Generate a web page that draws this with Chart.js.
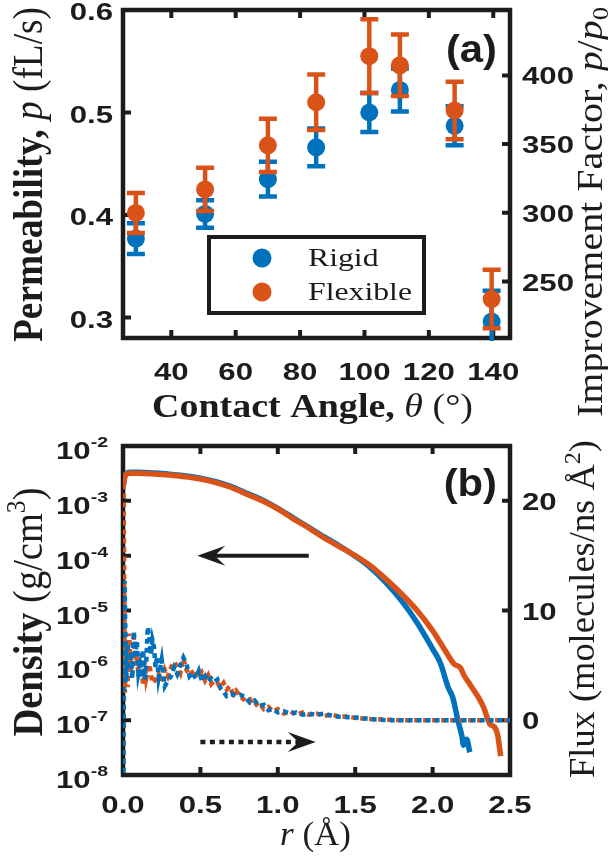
<!DOCTYPE html>
<html>
<head>
<meta charset="utf-8">
<script src="https://cdn.jsdelivr.net/npm/chart.js@4.4.1/dist/chart.umd.min.js"></script>
<style>
  body { margin: 0; background: #fff; }
  canvas { display: block; }
</style>
</head>
<body>
<canvas id="permChart" width="608" height="432"></canvas>
<canvas id="densityChart" width="608" height="433"></canvas>
<script>
// ---- panel (a): permeability vs contact angle ----
const contactAngles = [29, 50.5, 70, 85, 101.5, 111, 128, 139.5];
const rigidPerm = [0.377, 0.401, 0.435, 0.466, 0.500, 0.522, 0.487, 0.296];
const rigidErr = [0.015, 0.0135, 0.017, 0.0185, 0.019, 0.021, 0.019, 0.030];
const flexPerm = [0.402, 0.425, 0.468, 0.510, 0.555, 0.546, 0.502, 0.318];
const flexErr = [0.0195, 0.021, 0.026, 0.027, 0.036, 0.030, 0.028, 0.0285];

const angleTicks = [40, 60, 80, 100, 120, 140];
const angleTickLabels = ['40', '60', '80', '100', '120', '140'];
const permTicks = [0.3, 0.4, 0.5, 0.6];
const permTickLabels = ['0.3', '0.4', '0.5', '0.6'];
const factorTicks = [250, 300, 350, 400];
const factorTickLabels = ['250', '300', '350', '400'];
const factorPerPerm = 746; // p / p0 for p in fL/s

// ---- panel (b): density and flux vs r ----
const rRigidDens = [0.003, 0.012, 0.025, 0.05, 0.1, 0.2, 0.3, 0.4, 0.5, 0.6, 0.7, 0.8, 0.9, 1.0, 1.1, 1.2, 1.3, 1.4,
  1.5, 1.6, 1.7, 1.8, 1.9, 2.0, 2.05, 2.1, 2.13, 2.16, 2.19, 2.2, 2.22, 2.24];
const rigidDensity = [2.0e-3, 2.85e-3, 3.22e-3, 3.33e-3, 3.33e-3, 3.22e-3, 3.07e-3, 2.86e-3, 2.6e-3, 2.24e-3,
  1.82e-3, 1.37e-3, 1.04e-3, 7.3e-4, 4.9e-4, 3.3e-4, 2.2e-4, 1.5e-4, 9.8e-5, 6.0e-5, 3.2e-5, 1.5e-5, 6.0e-6,
  2.0e-6, 1.1e-6, 4.0e-7, 2.6e-7, 1.1e-7, 5.0e-8, 3.5e-8, 4.5e-8, 2.6e-8];

const rFlexDens = [0.003, 0.012, 0.025, 0.05, 0.1, 0.2, 0.3, 0.4, 0.5, 0.6, 0.7, 0.8, 0.9, 1.0, 1.1, 1.2, 1.3, 1.4,
  1.5, 1.6, 1.7, 1.8, 1.9, 2.0, 2.07, 2.14, 2.18, 2.2, 2.23, 2.27, 2.3, 2.33, 2.37, 2.4, 2.42, 2.44];
const flexDensity = [1.9e-3, 2.75e-3, 3.1e-3, 3.2e-3, 3.2e-3, 3.1e-3, 2.95e-3, 2.75e-3, 2.5e-3, 2.15e-3,
  1.75e-3, 1.32e-3, 1.0e-3, 7.1e-4, 4.7e-4, 3.2e-4, 2.1e-4, 1.45e-4, 1.0e-4, 6.5e-5, 3.7e-5, 2.0e-5, 1.0e-5,
  4.3e-6, 2.1e-6, 1.05e-6, 9.0e-7, 6.8e-7, 5.0e-7, 3.4e-7, 2.5e-7, 1.7e-7, 8.5e-8, 7.5e-8, 5.4e-8, 2.2e-8];

const rRigidFlux = [0.003, 0.01, 0.02, 0.03, 0.04, 0.05, 0.06, 0.07, 0.08, 0.09,
  0.10, 0.11, 0.12, 0.13, 0.14, 0.15, 0.16, 0.17, 0.18, 0.19,
  0.20, 0.21, 0.22, 0.23, 0.25, 0.27, 0.29, 0.31, 0.33, 0.35,
  0.37, 0.39, 0.41, 0.43, 0.45, 0.47, 0.49, 0.51, 0.53, 0.55,
  0.57, 0.59, 0.61, 0.63, 0.65, 0.67, 0.70, 0.73, 0.76, 0.79,
  0.82, 0.85, 0.88, 0.91, 0.94, 0.97, 1.00, 1.04, 1.08, 1.12,
  1.16, 1.2, 1.25, 1.3, 1.35, 1.4, 1.5, 1.6, 1.7, 2.0, 2.3, 2.5];
const rigidFlux = [-4.8, 12.7, 3.5, 7.0, 4.6, 6.2, 3.8, 8.1, 6.0, 7.2,
  4.3, 5.0, 3.9, 6.4, 3.7, 5.2, 8.5, 7.6, 6.0, 7.3,
  6.7, 4.8, 5.8, 3.9, 5.5, 3.1, 3.6, 4.0, 4.8, 4.2,
  5.0, 5.7, 5.1, 4.0, 4.3, 3.8, 4.5, 3.6, 4.0, 3.5,
  3.8, 3.5, 3.7, 2.9, 2.6, 2.2, 2.4, 2.2, 2.3, 2.1,
  1.6, 1.8, 1.3, 1.4, 0.9, 1.0, 0.7, 0.8, 0.6, 0.7,
  0.5, 0.6, 0.5, 0.6, 0.4, 0.3, 0.25, 0.1, 0.0, 0, 0, 0];

const rFlexFlux = [0.004, 0.012, 0.02, 0.03, 0.04, 0.05, 0.06, 0.07, 0.08, 0.09,
  0.10, 0.11, 0.12, 0.13, 0.14, 0.15,
  0.17, 0.19, 0.21, 0.23, 0.25, 0.27, 0.29, 0.31, 0.33, 0.35,
  0.37, 0.39, 0.41, 0.43, 0.45, 0.47, 0.49, 0.51, 0.53, 0.55,
  0.57, 0.59, 0.61, 0.63, 0.65, 0.67, 0.69, 0.71, 0.73,
  0.76, 0.79, 0.82, 0.85, 0.88, 0.91, 0.94, 0.97,
  1.00, 1.04, 1.08, 1.12, 1.16, 1.2, 1.25, 1.3, 1.35, 1.4, 1.45, 1.5,
  1.6, 1.7, 1.8, 2.0, 2.2, 2.5];
const flexFlux = [21.5, 2.5, 6.5, 3.0, 7.9, 4.5, 6.3, 7.6, 5.0, 6.0,
  4.0, 5.5, 4.9, 3.2, 5.3, 3.8,
  5.1, 3.4, 3.7, 4.2, 3.5, 4.6, 4.0, 4.8, 5.3, 4.9,
  4.3, 5.6, 4.6, 4.1, 4.4, 4.6, 3.8, 4.3, 3.6, 4.1,
  3.3, 3.6, 3.4, 3.0, 3.4, 2.8, 3.1, 2.4, 2.7,
  2.1, 1.8, 1.9, 1.3, 1.6, 1.0, 1.2, 0.8,
  1.0, 0.6, 0.8, 0.5, 0.7, 0.5, 0.6, 0.4, 0.5, 0.3, 0.35, 0.2,
  0.1, 0.05, 0, 0, 0, 0];

const radiusTicks = [0, 0.5, 1, 1.5, 2, 2.5];
const radiusTickLabels = ['0.0', '0.5', '1.0', '1.5', '2.0', '2.5'];
const densityTicks = [1e-8, 1e-7, 1e-6, 1e-5, 1e-4, 1e-3, 1e-2];
const densityTickExps = ['-8', '-7', '-6', '-5', '-4', '-3', '-2'];
const fluxTicks = [0, 10, 20];
const fluxTickLabels = ['0', '10', '20'];

// arrows telling which axis each line style belongs to
const densityArrow = { from: 1.2, to: 0.48, at: 1e-4 };
const fluxArrow = { from: 0.5, to: 1.245, at: -2 };

const BLUE = '#0072BD';
const RED = '#D95319';
const INK = '#1c1c1c';
const SANS = '"Liberation Sans", Arial, sans-serif';
const SERIF = '"Liberation Serif", "Times New Roman", serif';
const ROT = -Math.PI / 2;

function fontOf(p, base) {
  const f = Object.assign({}, base, p);
  return (f.italic ? 'italic ' : '') + (f.bold ? 'bold ' : '') + f.size + 'px ' + f.family;
}

// draw a row of text parts (mixed weight / italic / super- and subscripts)
function drawRich(ctx, parts, o) {
  const base = { size: o.size || 24, family: o.family || SERIF, bold: !!o.bold, italic: false };
  ctx.save();
  const widths = parts.map(p => { ctx.font = fontOf(p, base); return ctx.measureText(p.text).width; });
  const w = widths.reduce((s, v) => s + v, 0);
  const sx = o.length ? o.length / w : (o.sx || 1);
  ctx.translate(o.x, o.y);
  if (o.rot) ctx.rotate(o.rot);
  ctx.scale(sx, o.sy || 1);
  let cx = o.align === 'right' ? -w : o.align === 'left' ? 0 : -w / 2;
  ctx.fillStyle = INK;
  ctx.textAlign = 'left';
  ctx.textBaseline = 'alphabetic';
  parts.forEach((p, i) => {
    ctx.font = fontOf(p, base);
    ctx.fillText(p.text, cx, p.dy || 0);
    cx += widths[i];
  });
  ctx.restore();
}

const tickFont = { family: SANS, bold: true, size: 24, sx: 1.3 };

function fixTicks(values) {
  return scale => { scale.ticks = values.map(v => ({ value: v })); };
}
function fixWidth(w) {
  return scale => { scale.width = w; scale.paddingTop = 0; scale.paddingBottom = 0; };
}
function fixHeight(h) {
  return scale => { scale.height = h; scale.paddingLeft = 0; scale.paddingRight = 0; };
}

// box round the plot with inward tick marks
const framePlugin = {
  id: 'frame',
  beforeDatasetsDraw(chart) {
    const { ctx, chartArea: a, scales } = chart;
    const T = 8;
    ctx.save();
    ctx.strokeStyle = INK;
    ctx.lineWidth = 4;
    ctx.beginPath();
    scales.x.ticks.forEach(t => {
      const px = scales.x.getPixelForValue(t.value);
      if (px < a.left + 3 || px > a.right - 3) return;
      ctx.moveTo(px, a.bottom); ctx.lineTo(px, a.bottom - T);
      ctx.moveTo(px, a.top); ctx.lineTo(px, a.top + T);
    });
    scales.y.ticks.forEach(t => {
      const py = scales.y.getPixelForValue(t.value);
      if (py < a.top + 3 || py > a.bottom - 3) return;
      ctx.moveTo(a.left, py); ctx.lineTo(a.left + T, py);
    });
    scales.y2.ticks.forEach(t => {
      const py = scales.y2.getPixelForValue(t.value);
      if (py < a.top + 3 || py > a.bottom - 3) return;
      ctx.moveTo(a.right, py); ctx.lineTo(a.right - T, py);
    });
    ctx.stroke();
    ctx.lineWidth = 4.5;
    ctx.strokeRect(a.left, a.top, a.right - a.left, a.bottom - a.top);
    ctx.restore();
  }
};

// vertical error bars, drawn just under their own markers
const errorBarPlugin = {
  id: 'errorBars',
  beforeDatasetDraw(chart, args) {
    const ds = chart.data.datasets[args.index];
    if (!ds.errors) return;
    const { ctx, chartArea: a, scales: { x, y } } = chart;
    ctx.save();
    ctx.beginPath();
    ctx.rect(a.left - 3, a.top - 3, a.right - a.left + 6, a.bottom - a.top + 6);
    ctx.clip();
    ctx.strokeStyle = ds.backgroundColor;
    ctx.lineWidth = 4.5;
    ds.data.forEach((pt, i) => {
      const px = x.getPixelForValue(pt.x);
      const hi = y.getPixelForValue(pt.y + ds.errors[i]);
      const lo = y.getPixelForValue(pt.y - ds.errors[i]);
      ctx.beginPath();
      ctx.moveTo(px, hi); ctx.lineTo(px, lo);
      ctx.moveTo(px - 9, hi); ctx.lineTo(px + 9, hi);
      ctx.moveTo(px - 9, lo); ctx.lineTo(px + 9, lo);
      ctx.stroke();
    });
    ctx.restore();
  }
};

// tick labels, axis titles and the panel letter
function axisTextPlugin(cfg) {
  return {
    id: 'axisText',
    afterDraw(chart) {
      const { ctx, scales } = chart;
      scales.x.ticks.forEach((t, i) => {
        drawRich(ctx, [{ text: cfg.xLabels[i] }],
          Object.assign({}, tickFont, { x: scales.x.getPixelForValue(t.value), y: cfg.xBaseline }));
      });
      scales.y.ticks.forEach((t, i) => {
        const py = scales.y.getPixelForValue(t.value) + cfg.yShift;
        const parts = cfg.yExps
          ? [{ text: '10' }, { text: cfg.yExps[i], size: 15, dy: -12 }]
          : [{ text: cfg.yLabels[i] }];
        drawRich(ctx, parts, Object.assign({}, tickFont, { x: cfg.yRight, y: py, align: 'right' }));
      });
      scales.y2.ticks.forEach((t, i) => {
        const py = scales.y2.getPixelForValue(t.value) + 9;
        drawRich(ctx, [{ text: cfg.y2Labels[i] }],
          Object.assign({}, tickFont, { x: 522, y: py, align: 'left' }));
      });
      cfg.titles.forEach(tt => drawRich(ctx, tt.parts, tt));
      drawRich(ctx, [{ text: cfg.panel.text }],
        { family: SANS, bold: true, size: 38, sx: 1.1, align: 'right', x: 497, y: cfg.panel.y });
    }
  };
}

// legend box inside panel (a)
const boxLegendPlugin = {
  id: 'boxLegend',
  afterDraw(chart) {
    const { ctx } = chart;
    const box = { left: 209, top: 237, right: 424, bottom: 313 };
    const rows = [258, 292];
    ctx.save();
    ctx.fillStyle = '#fff';
    ctx.fillRect(box.left, box.top, box.right - box.left, box.bottom - box.top);
    ctx.strokeStyle = INK;
    ctx.lineWidth = 4;
    ctx.strokeRect(box.left, box.top, box.right - box.left, box.bottom - box.top);
    const sets = chart.data.datasets.slice().sort((a, b) => a.legendRow - b.legendRow);
    ctx.font = '26px ' + SERIF;
    const sx = 104 / ctx.measureText('Flexible').width;
    sets.forEach((ds, i) => {
      ctx.fillStyle = ds.backgroundColor;
      ctx.beginPath();
      ctx.arc(262, rows[i], 9.5, 0, Math.PI * 2);
      ctx.fill();
      drawRich(ctx, [{ text: ds.label }], { size: 26, sx: sx, align: 'left', x: 308, y: rows[i] + 8 });
    });
    ctx.restore();
  }
};

function drawArrow(ctx, x0, x1, y, dotted) {
  const dir = Math.sign(x1 - x0);
  const L = 28, H = 10;
  ctx.save();
  ctx.strokeStyle = INK;
  ctx.fillStyle = INK;
  ctx.lineWidth = dotted ? 4.5 : 4;
  if (dotted) ctx.setLineDash([5, 4.5]);
  ctx.beginPath();
  ctx.moveTo(x0, y);
  ctx.lineTo(x1 - dir * L * 0.6, y);
  ctx.stroke();
  ctx.setLineDash([]);
  ctx.beginPath();
  ctx.moveTo(x1, y);
  ctx.lineTo(x1 - dir * L, y - H);
  ctx.lineTo(x1 - dir * L * 0.62, y);
  ctx.lineTo(x1 - dir * L, y + H);
  ctx.closePath();
  ctx.fill();
  ctx.restore();
}

const arrowPlugin = {
  id: 'arrows',
  afterDatasetsDraw(chart) {
    const { ctx, scales: { x, y, y2 } } = chart;
    drawArrow(ctx, x.getPixelForValue(densityArrow.from), x.getPixelForValue(densityArrow.to),
      y.getPixelForValue(densityArrow.at), false);
    drawArrow(ctx, x.getPixelForValue(fluxArrow.from), x.getPixelForValue(fluxArrow.to),
      y2.getPixelForValue(fluxArrow.at), true);
  }
};

const hidden = { grid: { display: false }, border: { display: false }, ticks: { display: false } };

// ---------------- chart (a) ----------------
new Chart(document.getElementById('permChart'), {
  type: 'scatter',
  data: {
    datasets: [
      {
        label: 'Flexible', legendRow: 1, order: 0,
        data: contactAngles.map((a, i) => ({ x: a, y: flexPerm[i] })),
        errors: flexErr,
        backgroundColor: RED, borderWidth: 0, pointRadius: 9, pointHoverRadius: 9
      },
      {
        label: 'Rigid', legendRow: 0, order: 1,
        data: contactAngles.map((a, i) => ({ x: a, y: rigidPerm[i] })),
        errors: rigidErr,
        backgroundColor: BLUE, borderWidth: 0, pointRadius: 9, pointHoverRadius: 9
      }
    ]
  },
  options: {
    responsive: false,
    animation: false,
    devicePixelRatio: 1,
    layout: { padding: { top: 10, left: 0, right: 0, bottom: 0 } },
    plugins: { legend: { display: false }, tooltip: { enabled: false } },
    scales: {
      x: Object.assign({ type: 'linear', min: 25, max: 145.2,
        afterBuildTicks: fixTicks(angleTicks), afterFit: fixHeight(94) }, hidden),
      y: Object.assign({ type: 'linear', position: 'left', min: 0.28, max: 0.6,
        afterBuildTicks: fixTicks(permTicks), afterFit: fixWidth(123) }, hidden),
      y2: Object.assign({ type: 'linear', position: 'right', min: 0.28 * factorPerPerm, max: 0.6 * factorPerPerm,
        afterBuildTicks: fixTicks(factorTicks), afterFit: fixWidth(98) }, hidden)
    }
  },
  plugins: [framePlugin, errorBarPlugin, boxLegendPlugin, axisTextPlugin({
    xLabels: angleTickLabels, xBaseline: 380,
    yLabels: permTickLabels, yRight: 113, yShift: 10,
    y2Labels: factorTickLabels,
    panel: { text: '(a)', y: 61.5 },
    titles: [
      { parts: [{ text: 'Permeability, ', bold: true }, { text: 'p', italic: true }, { text: ' (fL/s)' }],
        size: 30, x: 42, y: 174.5, rot: ROT, length: 335, sy: 1.4 },
      { parts: [{ text: 'Improvement Factor, ' }, { text: 'p', italic: true }, { text: '/' },
        { text: 'p', italic: true }, { text: '0', size: 20, dy: 5 }],
        size: 30, x: 602, y: 212, rot: ROT, length: 410, sy: 1.2 },
      { parts: [{ text: 'Contact Angle, ', bold: true }, { text: 'θ', italic: true }, { text: ' (°)' }],
        size: 33, x: 312.5, y: 417, length: 321 }
    ]
  })]
});

// ---------------- chart (b) ----------------
new Chart(document.getElementById('densityChart'), {
  type: 'line',
  data: {
    datasets: [
      {
        label: 'Rigid flux', yAxisID: 'y2', order: 0,
        data: rRigidFlux.map((r, i) => ({ x: r, y: rigidFlux[i] })),
        borderColor: BLUE, borderWidth: 4.5, borderDash: [5, 4], borderCapStyle: 'butt',
        pointRadius: 0, tension: 0
      },
      {
        label: 'Flexible flux', yAxisID: 'y2', order: 1,
        data: rFlexFlux.map((r, i) => ({ x: r, y: flexFlux[i] })),
        borderColor: RED, borderWidth: 4.5, borderDash: [5, 4], borderCapStyle: 'butt',
        pointRadius: 0, tension: 0
      },
      {
        label: 'Flexible density', yAxisID: 'y', order: 2,
        data: rFlexDens.map((r, i) => ({ x: r, y: flexDensity[i] })),
        borderColor: RED, borderWidth: 5.5, pointRadius: 0, cubicInterpolationMode: 'monotone'
      },
      {
        label: 'Rigid density', yAxisID: 'y', order: 3,
        data: rRigidDens.map((r, i) => ({ x: r, y: rigidDensity[i] })),
        borderColor: BLUE, borderWidth: 5.5, pointRadius: 0, cubicInterpolationMode: 'monotone'
      }
    ]
  },
  options: {
    responsive: false,
    animation: false,
    devicePixelRatio: 1,
    layout: { padding: { top: 14, left: 0, right: 0, bottom: 0 } },
    plugins: { legend: { display: false }, tooltip: { enabled: false } },
    scales: {
      x: Object.assign({ type: 'linear', min: 0, max: 2.5,
        afterBuildTicks: fixTicks(radiusTicks), afterFit: fixHeight(90) }, hidden),
      y: Object.assign({ type: 'logarithmic', position: 'left', min: 1e-8, max: 1e-2,
        afterBuildTicks: fixTicks(densityTicks), afterFit: fixWidth(123) }, hidden),
      y2: Object.assign({ type: 'linear', position: 'right', min: -5, max: 25,
        afterBuildTicks: fixTicks(fluxTicks), afterFit: fixWidth(98) }, hidden)
    }
  },
  plugins: [framePlugin, arrowPlugin, axisTextPlugin({
    xLabels: radiusTickLabels, xBaseline: 381,
    yExps: densityTickExps, yRight: 108, yShift: 13,
    y2Labels: fluxTickLabels,
    panel: { text: '(b)', y: 64 },
    titles: [
      { parts: [{ text: 'Density ', bold: true }, { text: '(g/cm' }, { text: '3', size: 20, dy: -12 }, { text: ')' }],
        size: 30, x: 42, y: 180, rot: ROT, length: 249, sy: 1.4 },
      { parts: [{ text: 'Flux (molecules/ns Å' }, { text: '2', size: 20, dy: -12 }, { text: ')' }],
        size: 30, x: 594, y: 177, rot: ROT, length: 338, sy: 1.2 },
      { parts: [{ text: 'r', italic: true }, { text: ' (Å)' }],
        size: 33, x: 315.5, y: 413, length: 71 }
    ]
  })]
});
</script>
</body>
</html>
